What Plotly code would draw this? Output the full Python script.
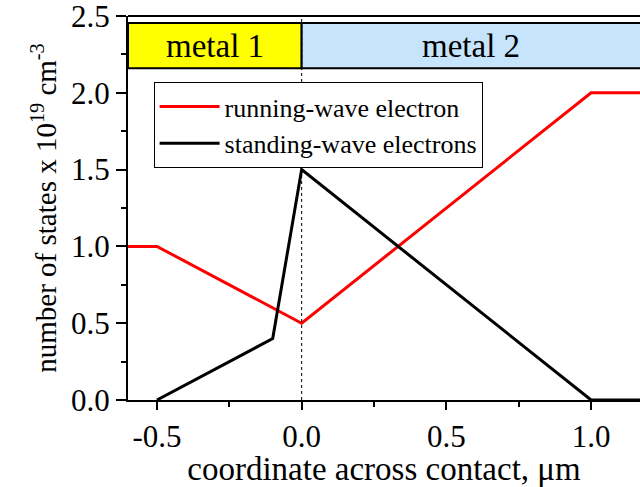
import plotly.graph_objects as go

# data
run_x = [-0.6, -0.5, 0.0, 1.0, 1.2]
run_y = [1.0, 1.0, 0.5, 2.0, 2.0]
stand_x = [-0.5, -0.1, 0.0, 1.0, 1.2]
stand_y = [0.0, 0.4, 1.5, 0.0, 0.0]
region_labels = ["metal 1", "metal 2"]
region_bounds = [(-0.6, 0.0), (0.0, 1.3)]
region_colors = ["#ffff00", "#c6e4fb"]
x_ticks = [-0.5, 0.0, 0.5, 1.0]
y_ticks = [0.0, 0.5, 1.0, 1.5, 2.0, 2.5]

FONT = "Liberation Serif"
fig = go.Figure()
fig.add_trace(go.Scatter(x=run_x, y=run_y, mode="lines", name="running-wave electron",
                         line=dict(color="#ff0000", width=3), cliponaxis=True))
fig.add_trace(go.Scatter(x=stand_x, y=stand_y, mode="lines", name="standing-wave electrons",
                         line=dict(color="#000000", width=3), cliponaxis=True))

for (x0, x1), lab, col in zip(region_bounds, region_labels, region_colors):
    fig.add_shape(type="rect", x0=x0, x1=x1, y0=2.16, y1=2.455, xref="x", yref="y",
                  fillcolor=col, line=dict(color="black", width=2), layer="above")
    fig.add_annotation(x=(x0 + min(x1, 1.169)) / 2, y=2.305, text=lab, showarrow=False,
                       font=dict(family=FONT, size=33, color="black"))

fig.add_shape(type="line", x0=0, x1=0, y0=0, y1=2.5, xref="x", yref="y",
              line=dict(color="black", width=1, dash="dot"))

fig.update_layout(
    width=640, height=487, margin=dict(l=128, r=0, t=16, b=87),
    paper_bgcolor="white", plot_bgcolor="white",
    font=dict(family=FONT, size=28, color="black"),
    showlegend=True,
    legend=dict(x=0.05, y=0.828, xanchor="left", yanchor="top",
                bordercolor="black", borderwidth=1, bgcolor="white",
                font=dict(family=FONT, size=26), itemwidth=60, tracegroupgap=0),
    xaxis=dict(range=[-0.6, 1.169], tickvals=x_ticks, ticktext=[f"{v:.1f}" for v in x_ticks],
               ticks="outside", ticklen=8, tickwidth=2, tickcolor="black",
               showline=True, linecolor="black", linewidth=2, mirror=False,
               showgrid=False, zeroline=False, ticklabeloverflow="allow",
               minor=dict(dtick=0.25, ticks="outside", ticklen=5, tickwidth=2, tickcolor="black"),
               tickfont=dict(size=31),
               title=dict(text="coordinate across contact, μm", font=dict(size=33), standoff=2)),
    yaxis=dict(range=[0, 2.5], tickvals=y_ticks, ticktext=[f"{v:.1f}" for v in y_ticks],
               ticks="outside", ticklen=10, tickwidth=2, tickcolor="black",
               showline=True, linecolor="black", linewidth=2,
               showgrid=False, zeroline=False, ticklabeloverflow="allow",
               minor=dict(dtick=0.25, ticks="outside", ticklen=5, tickwidth=2, tickcolor="black"),
               tickfont=dict(size=31),
               title=dict(text="number of states x 10<sup>19</sup> cm<sup>-3</sup>", font=dict(size=29), standoff=6)),
)
fig.add_shape(type="line", x0=0, x1=1, y0=1, y1=1, xref="paper", yref="paper",
              line=dict(color="black", width=2))
fig.write_html("out.html")
